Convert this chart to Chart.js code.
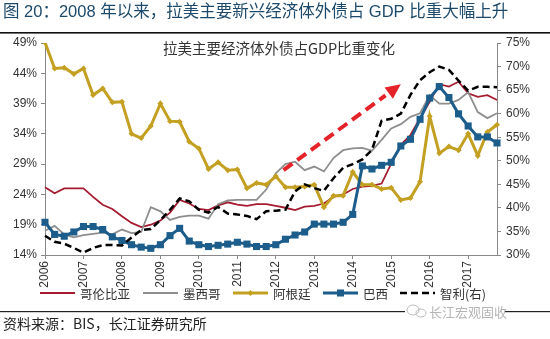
<!DOCTYPE html>
<html>
<head>
<meta charset="utf-8">
<script src="https://cdn.jsdelivr.net/npm/chart.js@4.4.1/dist/chart.umd.min.js"></script>
<style>
  html, body { margin: 0; padding: 0; background: #fff; }
  #wrap { width: 550px; height: 339px; position: relative; }
</style>
</head>
<body>
<div id="wrap"><canvas id="myChart" width="550" height="339"></canvas></div>
<script>
// quarterly points, 2006Q1 .. 2017Q4
const quarters = [
  '2006Q1','2006Q2','2006Q3','2006Q4','2007Q1','2007Q2','2007Q3','2007Q4',
  '2008Q1','2008Q2','2008Q3','2008Q4','2009Q1','2009Q2','2009Q3','2009Q4',
  '2010Q1','2010Q2','2010Q3','2010Q4','2011Q1','2011Q2','2011Q3','2011Q4',
  '2012Q1','2012Q2','2012Q3','2012Q4','2013Q1','2013Q2','2013Q3','2013Q4',
  '2014Q1','2014Q2','2014Q3','2014Q4','2015Q1','2015Q2','2015Q3','2015Q4',
  '2016Q1','2016Q2','2016Q3','2016Q4','2017Q1','2017Q2','2017Q3','2017Q4'
];

// left axis, % of GDP
const colombia = [25.2, 24.2, 25.0, 25.0, 25.0, 23.6, 22.3, 21.6, 20.4, 19.3, 18.6, 19.0,
  19.7, 21.0, 23.1, 22.5, 21.6, 21.4, 22.2, 22.7, 22.3, 22.1, 22.4, 22.4,
  22.1, 21.8, 21.4, 22.0, 22.1, 22.5, 23.6, 24.0, 24.9, 25.3, 25.4, 25.8,
  29.1, 32.2, 33.8, 36.6, 39.3, 42.2, 41.8, 42.6, 40.7, 40.1, 40.4, 39.6];
const mexico = [18.0, 18.8, 17.4, 16.9, 17.3, 17.5, 17.7, 17.4, 18.2, 17.6, 17.8, 21.9,
  21.2, 19.8, 20.3, 20.5, 20.5, 20.0, 22.4, 23.0, 23.1, 23.1, 23.1, 24.8,
  27.5, 29.0, 29.4, 28.0, 28.6, 27.8, 30.0, 31.3, 31.6, 31.7, 31.2, 33.0,
  34.9, 35.6, 36.8, 37.4, 40.4, 39.0, 39.0, 39.6, 40.9, 37.6, 36.6, 37.4];
const argentina = [49.1, 44.8, 44.9, 43.9, 44.8, 40.4, 41.5, 39.2, 39.3, 34.0, 33.3, 35.3,
  39.0, 36.1, 36.0, 32.7, 31.6, 28.2, 29.3, 28.0, 28.1, 25.0, 25.9, 25.6,
  27.0, 25.2, 25.2, 25.3, 25.6, 21.9, 23.8, 23.8, 27.7, 25.6, 25.6, 24.9,
  25.1, 23.1, 23.4, 26.1, 36.9, 30.8, 31.9, 31.3, 34.0, 30.4, 34.3, 35.5];
const brazil = [19.4, 17.4, 17.1, 17.8, 18.7, 18.7, 18.2, 17.0, 16.4, 15.7, 15.3, 15.1,
  15.7, 17.2, 18.4, 16.3, 15.7, 15.4, 15.6, 15.8, 16.1, 15.8, 15.4, 15.4,
  15.7, 16.6, 17.3, 17.8, 19.1, 19.1, 19.1, 19.4, 20.7, 28.7, 28.2, 28.8,
  29.3, 32.0, 33.1, 36.4, 39.9, 41.8, 40.0, 37.3, 35.3, 33.5, 33.5, 32.5];
// right axis
const chile = [34.1, 32.8, 32.4, 31.5, 30.5, 31.5, 32.1, 32.1, 32.0, 33.7, 35.3, 35.5,
  37.4, 39.6, 42.0, 41.4, 39.6, 39.0, 40.2, 38.8, 38.6, 38.3, 37.6, 39.3,
  39.4, 39.6, 43.5, 45.0, 44.2, 43.6, 46.3, 48.5, 49.3, 50.3, 52.3, 58.5,
  58.9, 60.0, 64.0, 67.1, 68.8, 70.0, 69.3, 67.0, 64.9, 65.7, 65.7, 65.6];

// red trend arrow, [quarter index, left-axis %]
const arrowFrom = [24.8, 28.0];
const arrowTo = [37.0, 42.2];

const FONT = "'Liberation Sans', 'Noto Sans CJK SC', sans-serif";
const CJK = "'Noto Sans CJK SC', 'Liberation Sans', sans-serif";

const series = [
  { label: '哥伦比亚', data: colombia, color: '#a51c30', width: 1.8, axis: 'y' },
  { label: '墨西哥', data: mexico, color: '#8e8e8e', width: 1.8, axis: 'y' },
  { label: '阿根廷', data: argentina, color: '#c4a022', width: 3, axis: 'y', point: 'rectRot', radius: 3 },
  { label: '巴西', data: brazil, color: '#1d5d8c', width: 3, axis: 'y', point: 'rect', radius: 5 },
  { label: '智利(右)', data: chile, color: '#000000', width: 2.5, axis: 'y1', dash: [7, 4] }
];

const decor = {
  id: 'decor',
  afterDatasetsDraw(chart) {
    const ctx = chart.ctx;
    const xs = chart.scales.x, ys = chart.scales.y;
    const x1 = xs.getPixelForValue(arrowFrom[0]), y1 = ys.getPixelForValue(arrowFrom[1]);
    const x2 = xs.getPixelForValue(arrowTo[0]), y2 = ys.getPixelForValue(arrowTo[1]);
    const ang = Math.atan2(y2 - y1, x2 - x1);
    const head = 15, hw = 7;
    const bx = x2 - head * Math.cos(ang), by = y2 - head * Math.sin(ang);
    ctx.save();
    ctx.strokeStyle = '#e62229';
    ctx.fillStyle = '#e62229';
    ctx.lineWidth = 4;
    ctx.setLineDash([11, 6]);
    ctx.beginPath();
    ctx.moveTo(x1, y1);
    ctx.lineTo(bx - 4 * Math.cos(ang), by - 4 * Math.sin(ang));
    ctx.stroke();
    ctx.setLineDash([]);
    ctx.beginPath();
    ctx.moveTo(x2, y2);
    ctx.lineTo(bx + hw * Math.sin(ang), by - hw * Math.cos(ang));
    ctx.lineTo(bx - hw * Math.sin(ang), by + hw * Math.cos(ang));
    ctx.closePath();
    ctx.fill();
    ctx.restore();
  },
  afterDraw(chart) {
    const ctx = chart.ctx;
    ctx.save();
    // header
    ctx.fillStyle = '#1d4a6b';
    ctx.font = '16.5px ' + FONT;
    ctx.textBaseline = 'middle';
    ctx.textAlign = 'left';
    ctx.fillText('图 20：2008 年以来，拉美主要新兴经济体外债占 GDP 比重大幅上升', 3, 12);
    ctx.fillStyle = '#111';
    ctx.fillRect(0, 32, 550, 1.6);
    // inner title
    ctx.fillStyle = '#333';
    ctx.font = '14.5px ' + CJK;
    ctx.textAlign = 'center';
    ctx.fillText('拉美主要经济体外债占GDP比重变化', 279, 48);

    // legend
    const lx = [40, 143, 233, 323, 400];
    ctx.font = '12.5px ' + CJK;
    ctx.textAlign = 'left';
    series.forEach((s, i) => {
      const x = lx[i], y = 293;
      ctx.strokeStyle = s.color;
      ctx.lineWidth = s.width;
      ctx.setLineDash(s.dash || []);
      ctx.beginPath();
      ctx.moveTo(x, y);
      ctx.lineTo(x + 35, y);
      ctx.stroke();
      ctx.setLineDash([]);
      ctx.fillStyle = s.color;
      if (s.point === 'rect') ctx.fillRect(x + 14, y - 3.5, 7, 7);
      if (s.point === 'rectRot') {
        ctx.beginPath();
        ctx.moveTo(x + 17.5, y - 3); ctx.lineTo(x + 20.5, y);
        ctx.lineTo(x + 17.5, y + 3); ctx.lineTo(x + 14.5, y);
        ctx.closePath(); ctx.fill();
      }
      ctx.fillStyle = '#333';
      ctx.fillText(s.label, x + 40, y + 1);
    });

    // footer
    ctx.fillStyle = '#222';
    ctx.fillRect(0, 311, 550, 1.2);
    ctx.fillStyle = '#fff';
    ctx.fillRect(405, 304, 100, 15);
    ctx.strokeStyle = '#bbb';
    ctx.lineWidth = 1;
    ctx.beginPath();
    ctx.ellipse(413, 310, 6, 5, 0, 0, Math.PI * 2);
    ctx.stroke();
    ctx.beginPath();
    ctx.ellipse(421, 313, 5, 4, 0, 0, Math.PI * 2);
    ctx.stroke();
    ctx.fillStyle = '#b5b5b5';
    ctx.font = '13px ' + CJK;
    ctx.fillText('长江宏观固收', 429, 312);
    ctx.fillStyle = '#222';
    ctx.font = '14px ' + CJK;
    ctx.fillText('资料来源：BIS，长江证券研究所', 3, 324);
    ctx.restore();
  }
};

const tickFont = { size: 12, family: FONT };

const ctx = document.getElementById('myChart').getContext('2d');
const chart = new Chart(ctx, {
  type: 'line',
  data: {
    labels: quarters,
    datasets: series.map((s, i) => ({
      label: s.label,
      data: s.data,
      yAxisID: s.axis,
      borderColor: s.color,
      backgroundColor: s.color,
      borderWidth: s.width,
      borderDash: s.dash || [],
      pointStyle: s.point || 'circle',
      pointRadius: s.point ? s.radius : 0,
      pointBorderWidth: 0,
      tension: 0,
      fill: false,
      order: series.length - i
    }))
  },
  options: {
    responsive: false,
    animation: false,
    layout: { padding: { top: 43, bottom: 44, left: 0, right: 0 } },
    plugins: { legend: { display: false }, tooltip: { enabled: false } },
    scales: {
      x: {
        ticks: {
          autoSkip: false, maxRotation: 90, minRotation: 90,
          color: '#333', font: tickFont, padding: 2,
          callback: (v, i) => quarters[i].endsWith('Q1') ? quarters[i].slice(0, 4) : null
        },
        grid: { drawOnChartArea: false, tickLength: 4, color: '#888' },
        border: { color: '#888' },
        afterFit: s => { s.height = 40; }
      },
      y: {
        position: 'left', min: 14, max: 49,
        ticks: { stepSize: 5, color: '#333', font: tickFont, padding: 4, callback: v => v + '%' },
        grid: { drawOnChartArea: false, tickLength: 4, color: '#888' },
        border: { color: '#888' },
        afterFit: s => { s.width = 45; }
      },
      y1: {
        position: 'right', min: 30, max: 75,
        ticks: { stepSize: 5, color: '#333', font: tickFont, padding: 5, callback: v => v + '%' },
        grid: { drawOnChartArea: false, tickLength: 4, color: '#888' },
        border: { color: '#888' },
        afterFit: s => { s.width = 53; }
      }
    }
  },
  plugins: [decor]
});
</script>
</body>
</html>
